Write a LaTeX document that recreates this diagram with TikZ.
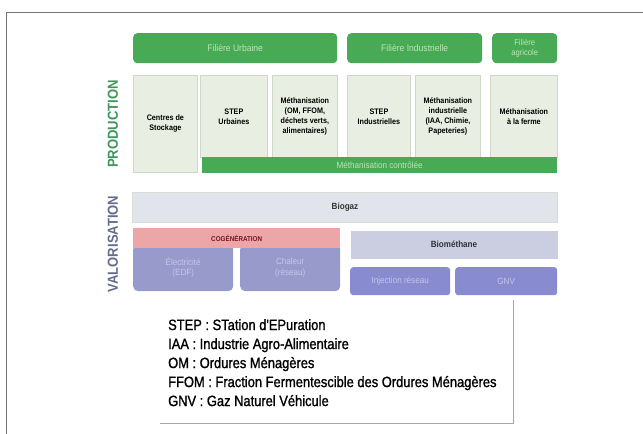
\documentclass[tikz,border=0pt]{standalone}
\usepackage{fontspec}
\setmainfont{Liberation Sans}[FakeStretch=0.9]
\newfontfamily\legfont{Liberation Sans}[FakeStretch=0.86,FakeBold=1.2]
\usepackage{tikz}

\definecolor{fgreen}{RGB}{72,170,84}
\definecolor{fgreentxt}{RGB}{190,228,185}
\definecolor{cellfill}{RGB}{232,238,226}
\definecolor{celldraw}{RGB}{205,216,198}
\definecolor{gasfill}{RGB}{226,228,236}
\definecolor{cogfill}{RGB}{236,166,168}
\definecolor{cogtxt}{RGB}{120,20,30}
\definecolor{usefill}{RGB}{152,154,204}
\definecolor{usetxt}{RGB}{196,198,232}
\definecolor{biomfill}{RGB}{202,206,224}
\definecolor{prodcol}{RGB}{62,150,90}
\definecolor{valocol}{RGB}{100,108,140}

\begin{document}
\begin{tikzpicture}[x=1pt, y=-1pt,
    box/.style={anchor=north west, inner sep=1pt, align=center},
    head/.style={box, fill=fgreen, rounded corners=4pt, text=fgreentxt, font=\fontsize{9.5}{10.5}\selectfont},
    cell/.style={box, fill=cellfill, draw=celldraw, line width=0.8pt, font=\bfseries\fontsize{8}{10}\selectfont},
    gas/.style={box, fill=gasfill, draw=celldraw!60!gasfill, line width=1pt, font=\bfseries\fontsize{9}{10}\selectfont, text=black!80},
    use/.style={box, fill=usefill, rounded corners=5pt, text=usetxt, font=\fontsize{9}{10.5}\selectfont},
    side/.style={rotate=90, font=\bfseries\fontsize{14.5}{15}\selectfont}]
  \useasboundingbox (0,0) rectangle (643,434);
  \draw[black!55, line width=0.8pt] (6,434) -- (6,12) -- (643,12);

  \node[side, text=prodcol] (prod) at (113,124) {PRODUCTION};
  \node[side, text=valocol] (valo) at (113,244) {VALORISATION};

  \node[head, minimum width=204, minimum height=30] (urb) at (133,33) {Filière Urbaine};
  \node[head, minimum width=135, minimum height=30] (ind) at (347,33) {Filière Industrielle};
  \node[head, minimum width=65, minimum height=30, font=\fontsize{8.5}{9.5}\selectfont] (agr) at (492,33) {Filière\\agricole};

  \node[cell, minimum width=64, minimum height=97] (cs) at (133,75) {Centres de\\Stockage};
  \node[cell, minimum width=67, minimum height=82] (stepu) at (200,75) {STEP\\Urbaines};
  \node[cell, minimum width=65, minimum height=82] (metu) at (272,75) {Méthanisation\\(OM, FFOM,\\déchets verts,\\alimentaires)};
  \node[cell, minimum width=63, minimum height=82] (stepi) at (347,75) {STEP\\Industrielles};
  \node[cell, minimum width=65, minimum height=82] (meti) at (415,75) {Méthanisation\\industrielle\\(IAA, Chimie,\\Papeteries)};
  \node[cell, minimum width=67, minimum height=82] (metf) at (490,75) {Méthanisation\\à la ferme};
  \node[box, fill=fgreen, text=fgreentxt, minimum width=355, minimum height=16,
    font=\fontsize{9}{10}\selectfont] (reac) at (202,157) {Méthanisation contrôlée};

  \node[gas, minimum width=425, minimum height=30] (biogaz) at (132,192) {Biogaz};

  \node[use, minimum width=100, minimum height=47] (elec) at (133,244) {Électricité\\(EDF)};
  \node[use, minimum width=100, minimum height=47] (chal) at (240,244) {Chaleur\\(réseau)};
  \node[box, fill=cogfill, minimum width=207, minimum height=20, text=cogtxt,
    font=\bfseries\fontsize{7}{8}\selectfont] (cogen) at (133,228) {COGÉNÉRATION};

  \node[gas, fill=biomfill, draw=none, minimum width=207, minimum height=28] (biom) at (350,230) {Biométhane};
  \node[use, fill=usefill!90!blue, rounded corners=3pt, minimum width=100, minimum height=28] (inj) at (350,267) {Injection réseau};
  \node[use, fill=usefill!90!blue, rounded corners=3pt, minimum width=102, minimum height=28] (gnv) at (455,267) {GNV};

  \node[box, minimum width=353, minimum height=123] (legbox) at (160,300) {};
  \draw[black!35, line width=1.2pt] (legbox.north east) -- (legbox.south east) -- (legbox.south west);
  \node[anchor=north west, align=left, inner sep=0pt, font=\legfont\fontsize{15}{19}\selectfont] (legend) at (168,319)
    {STEP : STation d'EPuration\\
     IAA : Industrie Agro-Alimentaire\\
     OM : Ordures Ménagères\\
     FFOM : Fraction Fermentescible des Ordures Ménagères\\
     GNV : Gaz Naturel Véhicule};
\end{tikzpicture}
\end{document}
